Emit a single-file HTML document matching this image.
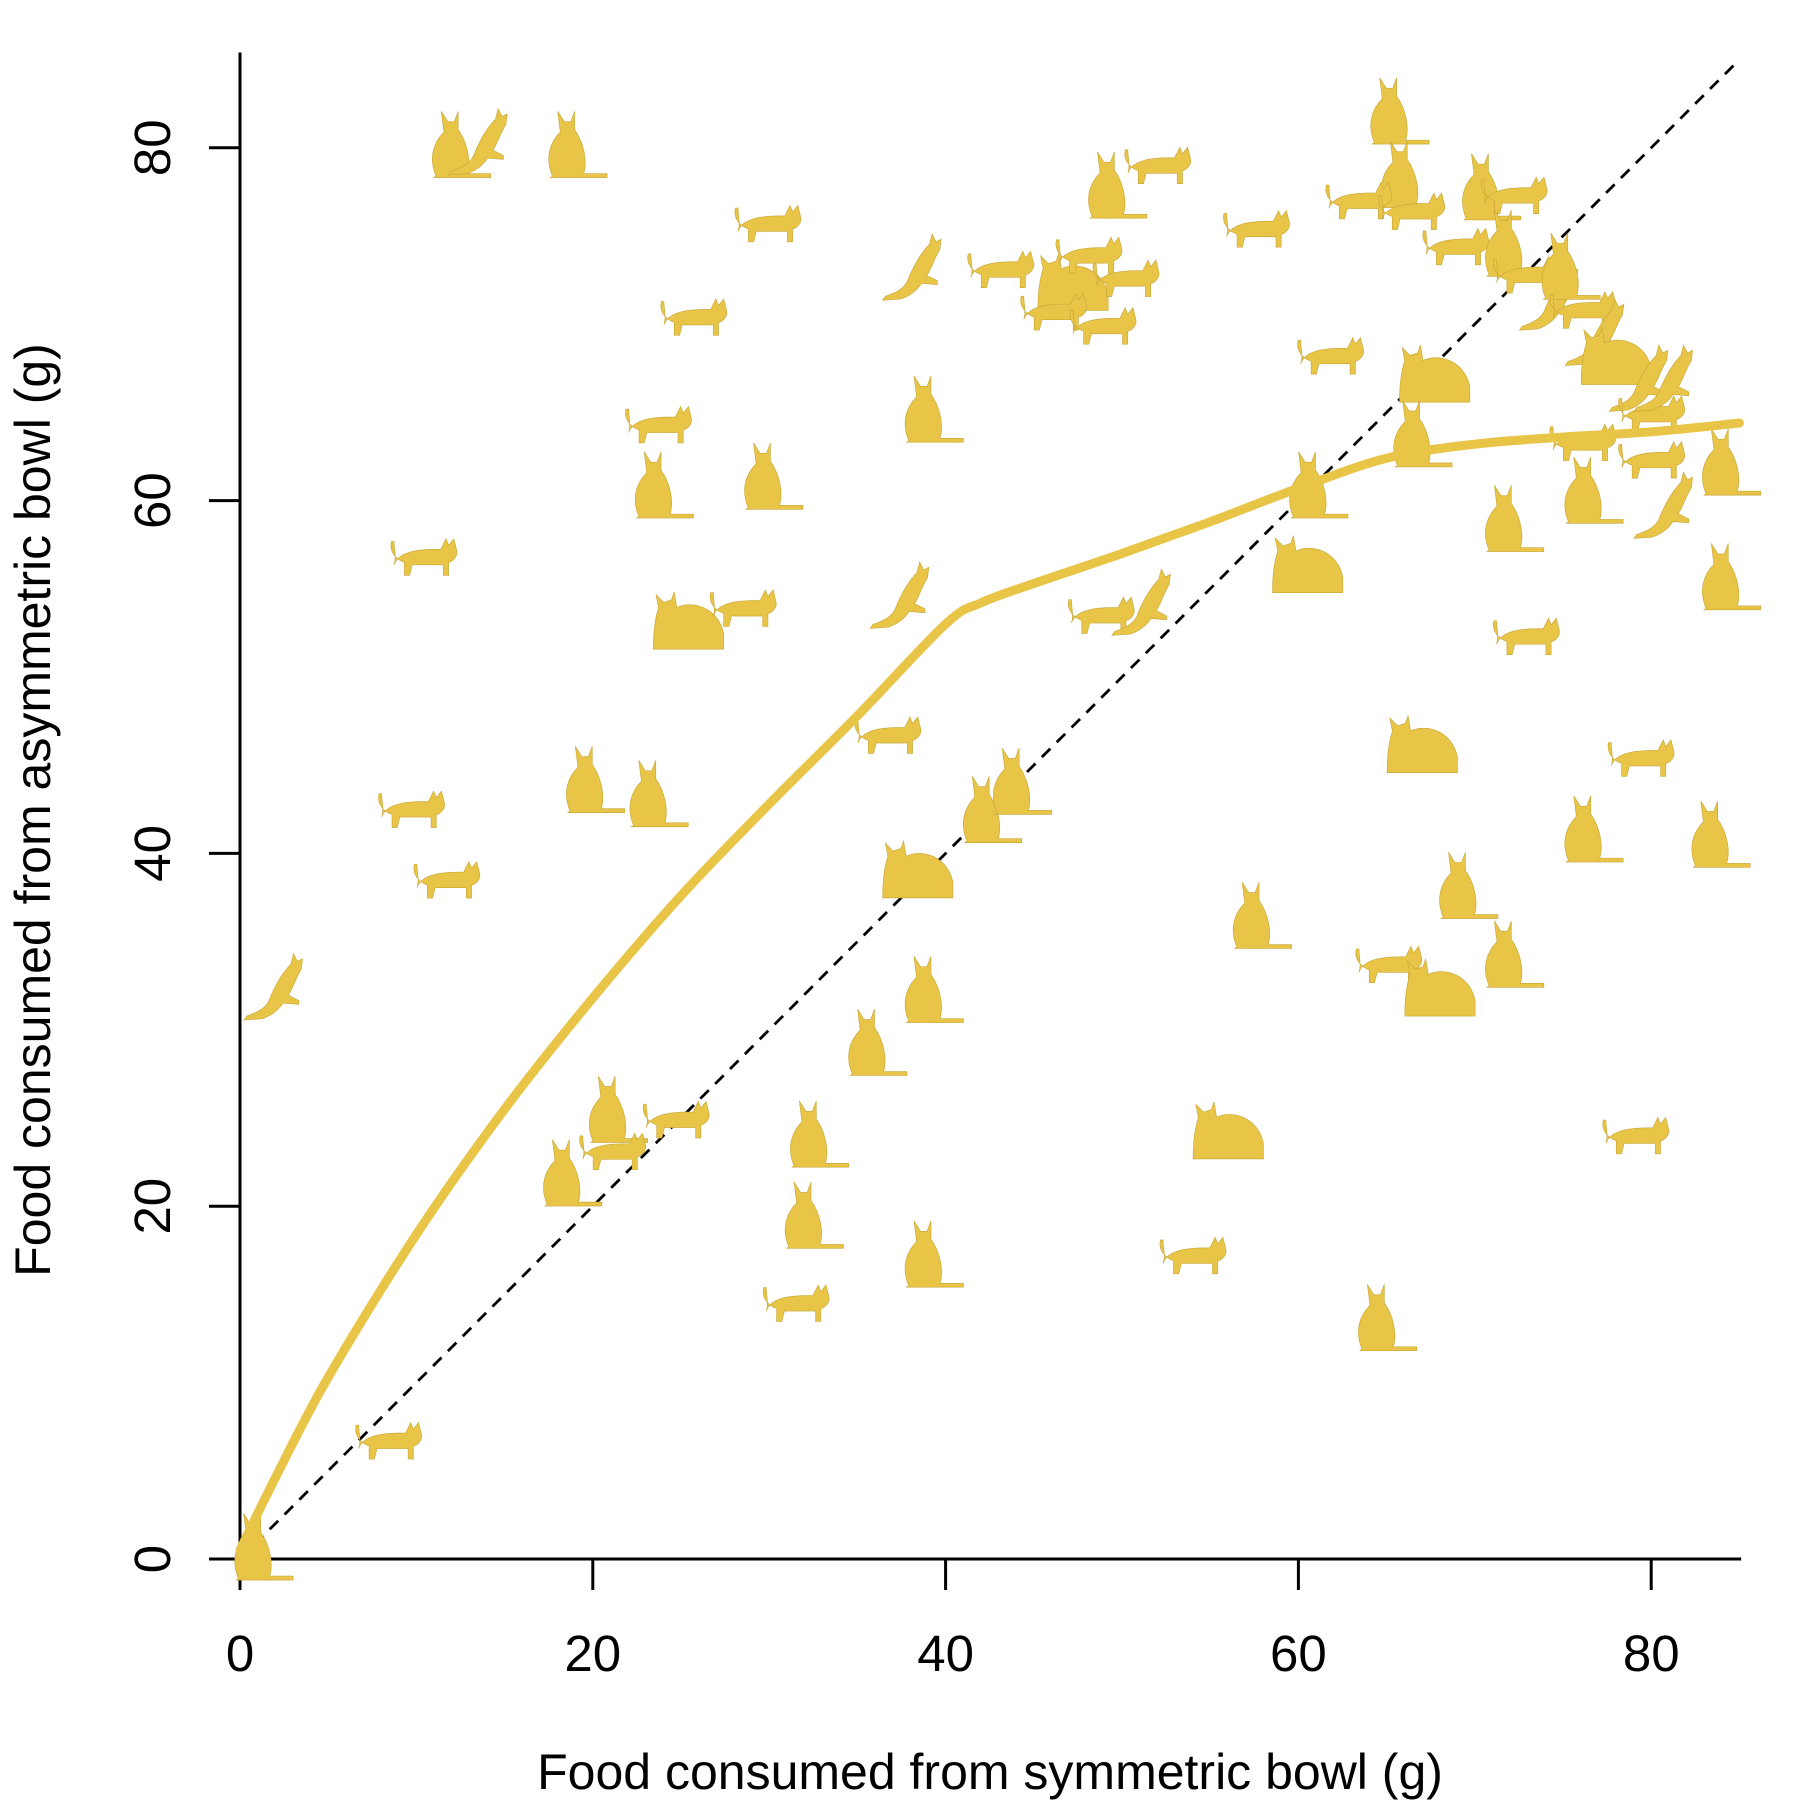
<!DOCTYPE html>
<html><head><meta charset="utf-8"><style>
html,body{margin:0;padding:0;background:#fff;}
svg{display:block;font-family:"Liberation Sans",Arial,sans-serif;}
</style></head><body>
<svg id="chart" width="1800" height="1800" viewBox="0 0 1800 1800" xmlns="http://www.w3.org/2000/svg">
<g id="axes"></g>
<g id="ref"></g>
<g id="cats"></g>
<g id="curve"></g>
<text x="990" y="1789" font-size="50" text-anchor="middle">Food consumed from symmetric bowl (g)</text>
<text transform="translate(50,810) rotate(-90)" font-size="50" text-anchor="middle">Food consumed from asymmetric bowl (g)</text>
</svg>
<script>
const xTicks=[0,20,40,60,80];
const yTicks=[0,20,40,60,80];
const curveX=[0,2,5,10,15,20,25,30,35,40,42,45,50,55,60,65,70,75,80,85];
const curveY=[0.5,4.6,10.3,18.4,25.5,31.8,37.6,42.8,47.8,53,54.2,55.3,57,58.8,60.7,62.4,63.2,63.6,63.9,64.4];
const catX=[12,13.6,18.6,30,38.2,25.8,23.8,23.5,29.7,10.5,25.5,28.6,37.5,38.8,43.2,47.3,46.2,49,50.3,48.2,49.2,52.1,57.7,65.2,65.8,63.5,66.5,69,70.4,72.3,71.7,73,74.3,74.9,76.2,76.9,78.1,79.4,80.1,80.8,61.9,67.8,66.5,60.6,60.6,71.7,76.2,76.2,80.1,80.8,84,84,73,67.1,79.5,76.2,83.4,69.1,71.7,65.2,68.1,57.4,56.1,79.2,54.1,64.5,48.9,51.2,36.8,19.6,23.2,9.8,11.8,2,38.5,42.1,43.8,38.8,35.6,20.9,24.8,21.2,18.3,32.3,32,38.8,31.6,8.5,0.8];
const catY=[80.3,80.3,80.3,75.7,73.2,70.4,64.3,61,61.5,56.8,53.2,53.9,54.6,65.3,73.1,72.4,70.7,69.9,72.6,73.9,78,79,75.4,82.2,78.6,77,76.4,74.4,77.9,77.3,74.7,72.8,71.5,73.4,70.8,69.5,68.2,66.9,64.9,66.9,68.2,67.2,63.9,61,56.4,59.1,60.7,63.3,62.3,59.7,62.3,55.8,52.3,46.2,45.4,41.5,41.2,38.3,34.4,33.7,32.4,36.6,24.3,24,17.2,13.8,53.5,54.2,46.7,44.3,43.5,42.5,38.5,32.4,39.1,42.6,44.2,32.4,29.4,25.6,24.9,23.1,22,24.2,19.6,17.4,14.5,6.7,0.8];
const catKind=[0,2,0,1,2,1,1,0,0,1,3,1,2,0,1,3,1,1,1,1,0,1,1,0,0,1,1,1,0,1,0,1,2,0,1,2,3,2,1,2,1,3,0,0,3,0,0,1,1,2,0,0,1,3,1,0,0,0,0,1,3,0,3,1,1,0,1,2,1,0,0,1,1,2,3,0,0,0,0,0,1,1,0,0,0,0,1,1,0];

const NS="http://www.w3.org/2000/svg";
const X0=240,Y0=1559,PX=17.64;
function sx(v){return X0+v*PX;}
function sy(v){return Y0-v*PX;}
function mk(tag,attrs,parent){const e=document.createElementNS(NS,tag);for(const k in attrs)e.setAttribute(k,attrs[k]);parent.appendChild(e);return e;}
const axes=document.getElementById('axes');
let a=mk('line',{x1:sx(-1.5),y1:Y0,x2:sx(85.1),y2:Y0,stroke:'#000','stroke-width':3},axes);


a=mk('line',{x1:X0,y1:sy(85.4),x2:X0,y2:Y0+31,stroke:'#000','stroke-width':3},axes);


xTicks.forEach(t=>{
  const l=mk('line',{x1:sx(t),y1:Y0,x2:sx(t),y2:Y0+31,stroke:'#000','stroke-width':3},axes);
  
  
  const tx=mk('text',{x:sx(t),y:Y0+112,'font-size':51,'text-anchor':'middle'},axes);
  tx.textContent=t;
  
  
});
yTicks.forEach(t=>{
  const l=mk('line',{x1:X0-31,y1:sy(t),x2:X0,y2:sy(t),stroke:'#000','stroke-width':3},axes);
  
  
  const tx=mk('text',{transform:`translate(170,${sy(t)}) rotate(-90)`,'font-size':51,'text-anchor':'middle'},axes);
  tx.textContent=t;
  
  
});
const ref=mk('line',{x1:sx(0),y1:sy(0),x2:sx(85),y2:sy(85),stroke:'#000','stroke-width':2.8,'stroke-dasharray':'12,9'},document.getElementById('ref'));



const shapes=[
 "M-12,26 C-18,12 -14,0 -6,-8 L-8,-24 L-3,-16 L2,-16 L5,-24 L5,-10 C12,0 15,14 12,24 L30,24 L30,27 L-14,27 Z",
 "M-24,6 C-20,-6 0,-6 12,-6 L16,-14 L18,-9 L22,-14 L24,-6 C26,0 20,4 18,4 L18,14 L14,14 L14,6 L-10,6 L-12,14 L-16,14 L-16,4 C-22,2 -28,-4 -26,-12 L-24,-12 C-24,-6 -22,0 -24,6 Z",
 "M-22,22 C-10,18 -6,14 -4,8 C0,-2 6,-12 12,-18 L14,-26 L17,-20 L21,-22 L20,-14 C16,-8 14,0 10,6 L18,10 L18,13 L6,12 C2,18 -4,22 -10,24 L-24,25 Z",
 "M-28,20 C-28,6 -26,-4 -24,-10 L-26,-20 L-20,-14 L-14,-16 L-12,-22 L-10,-10 C2,-16 22,-10 26,10 L26,22 L-28,22 Z"
];
const cg=document.getElementById('cats');
catX.forEach((v,i)=>{
  const p=mk('path',{d:shapes[catKind[i]%4],fill:'#E8C547',stroke:'#c9a83a','stroke-width':0.5,transform:`translate(${sx(v)},${sy(catY[i])}) scale(1.3)`},cg);
  
  
});
const P=curveX.map((v,i)=>[sx(v),sy(curveY[i])]);
let d='M'+P[0][0].toFixed(1)+','+P[0][1].toFixed(1);
for(let i=0;i<P.length-1;i++){
  const p0=P[Math.max(0,i-1)],p1=P[i],p2=P[i+1],p3=P[Math.min(P.length-1,i+2)];
  const c1=[p1[0]+(p2[0]-p0[0])/6,p1[1]+(p2[1]-p0[1])/6];
  const c2=[p2[0]-(p3[0]-p1[0])/6,p2[1]-(p3[1]-p1[1])/6];
  d+=`C${c1[0].toFixed(1)},${c1[1].toFixed(1)} ${c2[0].toFixed(1)},${c2[1].toFixed(1)} ${p2[0].toFixed(1)},${p2[1].toFixed(1)}`;
}
const cp=mk('path',{d:d,fill:'none',stroke:'#E8C547','stroke-width':9,'stroke-linejoin':'round','stroke-linecap':'round'},document.getElementById('curve'));


</script>
</body></html>
